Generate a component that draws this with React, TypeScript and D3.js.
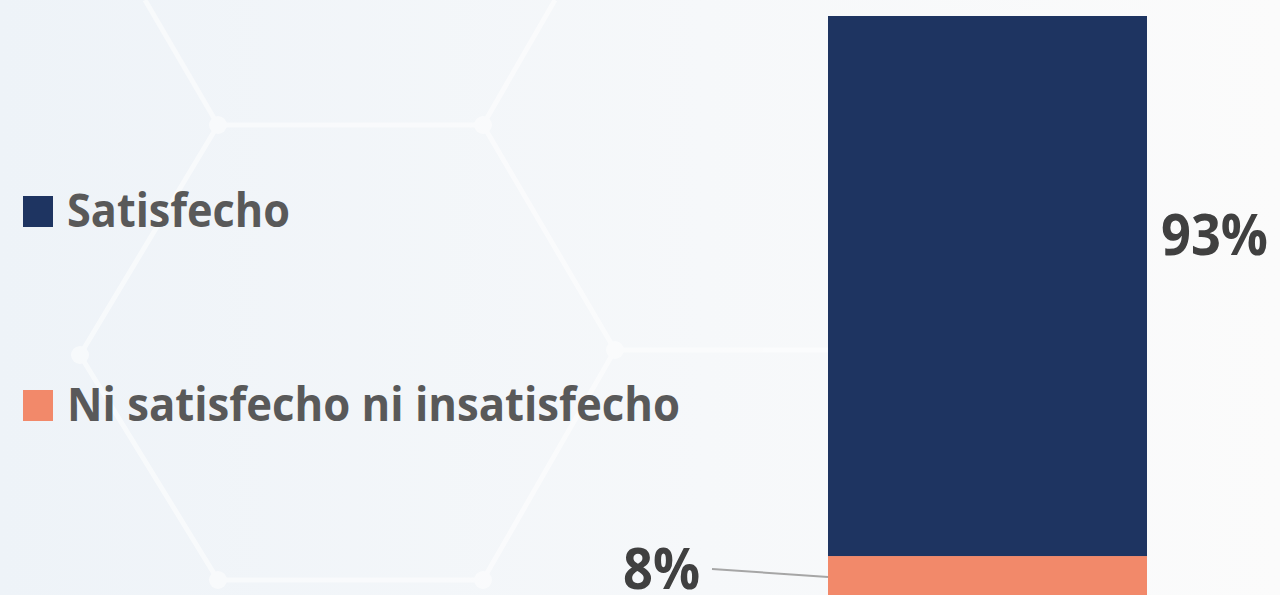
import React, { useEffect, useRef } from 'react'
import * as d3 from 'd3'

const categories = ['Satisfecho', 'Ni satisfecho ni insatisfecho']
const values = [93, 8]
const labels = ['93%', '8%']
const colors = ['#1e3461', '#f2896a']

const width = 1280,
    height = 595

// bar layout (the bottom of the bar runs past the bottom edge, as in the slide)
const bar = { left: 828, right: 1147, top: 16, bottom: 602.5 }

export default function App() {
    const ref = useRef<SVGSVGElement>(null)

    useEffect(() => {
        document.body.style.margin = '0'
        const svg = d3.select(ref.current)
        svg.selectAll('*').remove()

        // background
        const defs = svg.append('defs')
        const grad = defs.append('linearGradient')
            .attr('id', 'bg')
            .attr('x1', '0').attr('y1', '0').attr('x2', '1').attr('y2', '0')
        grad.append('stop').attr('offset', '0%').attr('stop-color', '#eef3f8')
        grad.append('stop').attr('offset', '55%').attr('stop-color', '#f6f8fa')
        grad.append('stop').attr('offset', '100%').attr('stop-color', '#fbfbfb')
        svg.append('rect').attr('width', width).attr('height', height).attr('fill', 'url(#bg)')

        // faint hexagon decoration
        const hex: [number, number][][] = [
            [[218, 125], [483, 125], [615, 350], [483, 580], [218, 580], [80, 355], [218, 125]],
            [[218, 125], [145, 0]],
            [[483, 125], [555, 0]],
            [[615, 350], [830, 350]],
        ]
        const deco = svg.append('g').attr('opacity', 0.55)
        deco.selectAll('path')
            .data(hex)
            .join('path')
            .attr('d', d => d3.line()(d))
            .attr('fill', 'none')
            .attr('stroke', '#ffffff')
            .attr('stroke-width', 5)
        deco.selectAll('circle')
            .data([[218, 125], [483, 125], [615, 350], [483, 580], [218, 580], [80, 355]])
            .join('circle')
            .attr('cx', d => d[0])
            .attr('cy', d => d[1])
            .attr('r', 9)
            .attr('fill', '#ffffff')

        // stacked bar: first category sits on top
        const row: Record<string, number> = {}
        categories.forEach((c, i) => (row[c] = values[i]))
        const keys = categories.slice().reverse()
        const series = d3.stack<Record<string, number>>().keys(keys)([row])
        const color = d3.scaleOrdinal<string, string>().domain(categories).range(colors)

        const y = d3.scaleLinear()
            .domain([0, d3.sum(values)])
            .range([bar.bottom, bar.top])

        const x = d3.scaleBand()
            .domain(['total'])
            .range([bar.left, bar.right])
            .padding(0)

        svg.append('g')
            .selectAll('rect')
            .data(series)
            .join('rect')
            .attr('fill', d => color(d.key))
            .attr('x', x('total')!)
            .attr('width', x.bandwidth())
            .attr('y', d => y(d[0][1]))
            .attr('height', d => y(d[0][0]) - y(d[0][1]))

        const font = "'Open Sans', 'DejaVu Sans', sans-serif"

        // value labels
        svg.append('text')
            .attr('x', bar.right + 14)
            .attr('y', 255)
            .attr('font-family', font)
            .attr('font-weight', 700)
            .attr('font-size', 58)
            .attr('fill', '#404040')
            .attr('textLength', 107)
            .attr('lengthAdjust', 'spacingAndGlyphs')
            .text(labels[0])

        svg.append('text')
            .attr('x', 623)
            .attr('y', 589)
            .attr('font-family', font)
            .attr('font-weight', 700)
            .attr('font-size', 58)
            .attr('fill', '#404040')
            .attr('textLength', 77)
            .attr('lengthAdjust', 'spacingAndGlyphs')
            .text(labels[1])

        svg.append('line')
            .attr('x1', 712).attr('y1', 569)
            .attr('x2', bar.left).attr('y2', 577)
            .attr('stroke', '#a6a6a6')
            .attr('stroke-width', 2)

        // legend
        const legendY = [227, 421]
        const legendW = [223, 613]
        const legend = svg.append('g')
            .selectAll('g')
            .data(categories)
            .join('g')
            .attr('transform', (d, i) => `translate(23,${legendY[i]})`)
        legend.append('rect')
            .attr('y', -31)
            .attr('width', 30)
            .attr('height', 31)
            .attr('fill', d => color(d))
        legend.append('text')
            .attr('x', 44)
            .attr('font-family', font)
            .attr('font-weight', 700)
            .attr('font-size', 47)
            .attr('fill', '#595959')
            .attr('textLength', (d, i) => legendW[i])
            .attr('lengthAdjust', 'spacingAndGlyphs')
            .text(d => d)
    }, [])

    return (
        <svg
            ref={ref}
            width={width}
            height={height}
            style={{ position: 'absolute', left: 0, top: 0, display: 'block' }}
        />
    )
}
